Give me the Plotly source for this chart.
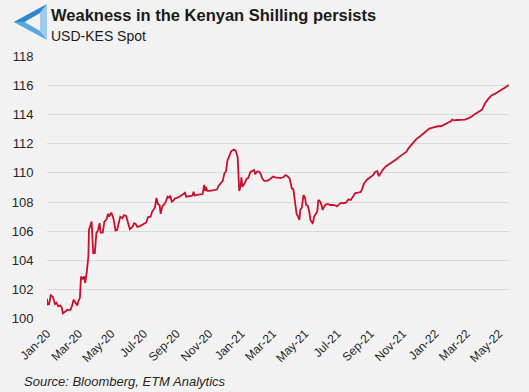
import plotly.graph_objects as go

dates = [
    "2020-01-01", "2020-01-02", "2020-01-05", "2020-01-08", "2020-01-12", "2020-01-16", "2020-01-19",
    "2020-01-22", "2020-01-26", "2020-01-29", "2020-01-31", "2020-02-03", "2020-02-08", "2020-02-14",
    "2020-02-17", "2020-02-20", "2020-02-24", "2020-02-27", "2020-02-29", "2020-03-03", "2020-03-05",
    "2020-03-08", "2020-03-11", "2020-03-13", "2020-03-16", "2020-03-19", "2020-03-20", "2020-03-23",
    "2020-03-25", "2020-03-28", "2020-03-31", "2020-04-03", "2020-04-06", "2020-04-09", "2020-04-11",
    "2020-04-15", "2020-04-18", "2020-04-22", "2020-04-25", "2020-04-27", "2020-05-01", "2020-05-05",
    "2020-05-09", "2020-05-12", "2020-05-15", "2020-05-18", "2020-05-22", "2020-05-25", "2020-05-29",
    "2020-06-02", "2020-06-05", "2020-06-10", "2020-06-13", "2020-06-16", "2020-06-19", "2020-06-24",
    "2020-06-29", "2020-07-03", "2020-07-06", "2020-07-09", "2020-07-14", "2020-07-17", "2020-07-22",
    "2020-07-23", "2020-07-25", "2020-07-28", "2020-07-31", "2020-08-02", "2020-08-05", "2020-08-09",
    "2020-08-12", "2020-08-15", "2020-08-18", "2020-08-20", "2020-08-23", "2020-08-26", "2020-08-29",
    "2020-09-03", "2020-09-07", "2020-09-12", "2020-09-17", "2020-09-19", "2020-09-24", "2020-10-01",
    "2020-10-03", "2020-10-05", "2020-10-10", "2020-10-16", "2020-10-20", "2020-10-23", "2020-10-25",
    "2020-10-26", "2020-10-29", "2020-11-03", "2020-11-09", "2020-11-16", "2020-11-19", "2020-11-24",
    "2020-11-27", "2020-11-30", "2020-12-03", "2020-12-06", "2020-12-09", "2020-12-13", "2020-12-18",
    "2020-12-21", "2020-12-25", "2020-12-27", "2020-12-28", "2020-12-31", "2021-01-01", "2021-01-03",
    "2021-01-07", "2021-01-11", "2021-01-14", "2021-01-18", "2021-01-21", "2021-01-25", "2021-01-27",
    "2021-01-30", "2021-02-03", "2021-02-06", "2021-02-09", "2021-02-13", "2021-02-18", "2021-02-23",
    "2021-03-02", "2021-03-06", "2021-03-15", "2021-03-21", "2021-03-25", "2021-03-29", "2021-04-02",
    "2021-04-04", "2021-04-06", "2021-04-09", "2021-04-11", "2021-04-13", "2021-04-15", "2021-04-18",
    "2021-04-20", "2021-04-22", "2021-04-25", "2021-04-28", "2021-05-01", "2021-05-03", "2021-05-06",
    "2021-05-09", "2021-05-11", "2021-05-15", "2021-05-16", "2021-05-18", "2021-05-21", "2021-05-24",
    "2021-05-26", "2021-05-29", "2021-06-01", "2021-06-03", "2021-06-06", "2021-06-09", "2021-06-13",
    "2021-06-17", "2021-06-22", "2021-06-27", "2021-06-30", "2021-07-05", "2021-07-08", "2021-07-12",
    "2021-07-17", "2021-07-22", "2021-07-26", "2021-07-30", "2021-08-03", "2021-08-08", "2021-08-14",
    "2021-08-17", "2021-08-20", "2021-08-26", "2021-09-01", "2021-09-06", "2021-09-10", "2021-09-14",
    "2021-09-17", "2021-09-20", "2021-09-24", "2021-09-30", "2021-10-08", "2021-10-14", "2021-10-20",
    "2021-10-26", "2021-11-02", "2021-11-08", "2021-11-12", "2021-11-17", "2021-11-22", "2021-11-26",
    "2021-12-03", "2021-12-09", "2021-12-15", "2021-12-21", "2021-12-29", "2022-01-06", "2022-01-12",
    "2022-01-18", "2022-01-24", "2022-01-31", "2022-02-02", "2022-02-05", "2022-02-11", "2022-02-20",
    "2022-02-26", "2022-03-05", "2022-03-11", "2022-03-17", "2022-03-23", "2022-03-30", "2022-04-02",
    "2022-04-05", "2022-04-11", "2022-04-17", "2022-04-23", "2022-04-29", "2022-05-06", "2022-05-12",
    "2022-05-16", "2022-05-20",
]

usd_kes = [
    101.37, 100.98, 101.00, 101.60, 101.50, 101.00, 101.10,
    100.86, 100.90, 100.75, 100.36, 100.45, 100.60, 100.60,
    100.86, 101.30, 101.10, 100.90, 101.20, 101.43, 102.90,
    102.70, 102.90, 102.45, 103.25, 104.30, 106.10, 106.40,
    106.66, 104.50, 104.50, 105.87, 106.05, 106.55, 105.90,
    105.90, 106.66, 106.80, 107.20, 107.00, 107.28, 106.90,
    106.05, 106.10, 106.55, 107.00, 106.90, 107.10, 107.05,
    106.55, 106.14, 106.30, 106.55, 106.50, 106.30, 106.35,
    106.45, 106.55, 106.60, 106.96, 107.00, 107.35, 107.60,
    107.78, 108.28, 107.87, 107.80, 107.19, 107.70, 107.87,
    108.05, 108.37, 108.30, 108.44, 108.03, 108.10, 108.25,
    108.30, 108.37, 108.50, 108.64, 108.37, 108.40, 108.45,
    108.70, 108.45, 108.50, 108.50, 108.55, 109.17, 108.75,
    109.05, 108.77, 108.77, 108.80, 108.86, 109.10, 109.30,
    109.45, 109.97, 110.10, 110.87, 111.20, 111.50, 111.60,
    111.55, 111.10, 109.97, 108.76, 109.15, 109.70, 109.05,
    109.27, 109.60, 109.65, 110.07, 110.14, 110.20, 109.90,
    110.07, 110.10, 109.97, 109.65, 109.46, 109.46, 109.55,
    109.75, 109.70, 109.65, 109.70, 109.85, 109.78, 109.60,
    109.28, 108.94, 108.87, 108.33, 107.69, 107.19, 107.00,
    106.78, 107.46, 107.65, 108.48, 108.30, 107.80, 107.75,
    107.35, 106.78, 106.55, 106.60, 107.00, 107.20, 107.35,
    108.14, 108.05, 107.80, 107.46, 107.70, 107.83, 107.87,
    107.80, 107.80, 107.78, 107.70, 107.87, 107.96, 107.92,
    107.96, 108.19, 108.14, 108.37, 108.60, 108.64, 108.70,
    108.94, 109.28, 109.55, 109.73, 109.85, 110.07, 110.12,
    109.78, 109.97, 110.20, 110.44, 110.62, 110.78, 110.94,
    111.12, 111.30, 111.46, 111.70, 111.92, 112.15, 112.30,
    112.50, 112.70, 112.90, 113.04, 113.12, 113.20, 113.20,
    113.30, 113.42, 113.55, 113.66, 113.60, 113.63, 113.63,
    113.66, 113.76, 113.87, 114.05, 114.20, 114.33, 114.55,
    114.78, 115.08, 115.31, 115.42, 115.53, 115.70, 115.85,
    115.96, 116.03,
]

y_ticks = [100, 102, 104, 106, 108, 110, 112, 114, 116, 118]
x_ticks = ["2020-01-01", "2020-03-01", "2020-05-01", "2020-07-01", "2020-09-01", "2020-11-01",
           "2021-01-01", "2021-03-01", "2021-05-01", "2021-07-01", "2021-09-01", "2021-11-01",
           "2022-01-01", "2022-03-01", "2022-05-01"]
x_tick_labels = ["Jan-20", "Mar-20", "May-20", "Jul-20", "Sep-20", "Nov-20", "Jan-21", "Mar-21",
                 "May-21", "Jul-21", "Sep-21", "Nov-21", "Jan-22", "Mar-22", "May-22"]

title = "Weakness in the Kenyan Shilling persists"
subtitle = "USD-KES Spot"
source = "Source: Bloomberg, ETM Analytics"

BG = "#f2f2f2"
W, H = 529, 392
ML, MR, MT, MB = 38, 20, 56, 73
PW, PH = W - ML - MR, H - MT - MB


def px(x):
    return (x - ML) / PW


def py(y):
    return (H - MB - y) / PH


def poly(pts):
    return "M " + " L ".join(f"{px(a):.4f},{py(b):.4f}" for a, b in pts) + " Z"


fig = go.Figure()
fig.add_trace(go.Scatter(
    x=dates, y=usd_kes, mode="lines",
    line=dict(color="#c8102e", width=1.8),
    hoverinfo="x+y", showlegend=False,
))

# logo (decorative Penrose-like triangle)
A, B, C = (4, 22), (38, 4), (38, 40)
a, b, c = (15, 22), (31, 13), (31, 31)
logo = [
    ([A, B, b, a], "#2f86c8"),
    ([B, C, c, b], "#9ccbee"),
    ([C, A, a, c], "#5aa7de"),
]
shapes = []
for pts, col in logo:
    shapes.append(dict(type="path", xref="paper", yref="paper", path=poly(pts),
                       fillcolor=col, line=dict(width=0), layer="above"))

fig.update_layout(
    width=W, height=H,
    margin=dict(l=ML, r=MR, t=MT, b=MB),
    paper_bgcolor=BG, plot_bgcolor=BG,
    font=dict(family="Liberation Sans, Arial, sans-serif", color="#262626"),
    shapes=shapes,
    annotations=[
        dict(text=f"<b>{title}</b>", xref="paper", yref="paper", x=px(40), y=py(4),
             xanchor="left", yanchor="top", showarrow=False,
             font=dict(size=16.5, color="#1a1a1a")),
        dict(text=subtitle, xref="paper", yref="paper", x=px(40), y=py(26),
             xanchor="left", yanchor="top", showarrow=False,
             font=dict(size=14, color="#1a1a1a")),
        dict(text=f"<i>{source}</i>", xref="paper", yref="paper", x=px(13), y=py(372),
             xanchor="left", yanchor="top", showarrow=False,
             font=dict(size=13, color="#262626")),
    ],
    xaxis=dict(
        range=["2020-01-01", "2022-05-20"],
        tickmode="array", tickvals=x_ticks, ticktext=x_tick_labels,
        tickangle=-45, tickfont=dict(size=12),
        showgrid=False, zeroline=False, showline=False,
        ticks="outside", ticklen=2, tickcolor=BG,
    ),
    yaxis=dict(
        range=[99.98, 118.02],
        tickmode="array", tickvals=y_ticks, ticktext=[str(v) for v in y_ticks],
        tickfont=dict(size=13),
        showgrid=True, gridcolor="#d9d9d9", gridwidth=1,
        zeroline=False, showline=False,
        ticks="outside", ticklen=10, tickcolor=BG,
    ),
)

fig.write_html(
    "out.html",
    config={"displayModeBar": False},
    post_script="document.body.style.margin='0';document.body.style.background='#f2f2f2';",
)
